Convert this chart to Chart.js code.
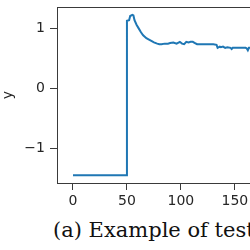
<!DOCTYPE html>
<html>
<head>
<meta charset="utf-8">
<script src="https://cdn.jsdelivr.net/npm/chart.js@4"></script>
<style>
  html, body { margin: 0; padding: 0; background: #fff; overflow: hidden; }
  #wrap { position: relative; width: 250px; height: 250px; }
  #chartBox { position: absolute; left: 0; top: 0; width: 250px; height: 212px; }
  #caption {
    position: absolute; left: 53px; top: 218px; white-space: nowrap;
    font-family: "DejaVu Serif", "Liberation Serif", serif; font-size: 21px; color: #111;
  }
</style>
</head>
<body>
<div id="wrap">
  <div id="chartBox"><canvas id="stepChart"></canvas></div>
  <div id="caption">(a) Example of test</div>
</div>
<script>
// Data
const steps = [0, 50, 50, 52, 53, 55, 56, 57, 59, 61, 63, 65, 68, 70, 73, 75, 78, 80, 82, 85, 88, 90, 93, 96, 99, 101, 103, 105, 107, 109, 111, 113, 115, 118, 122, 126, 130, 133, 134, 136, 137, 139, 141, 143, 146, 147, 148, 152, 156, 160, 161, 162, 163, 166, 170];
const response = [-1.45, -1.45, 1.12, 1.13, 1.2, 1.22, 1.21, 1.13, 1.05, 0.99, 0.93, 0.88, 0.83, 0.81, 0.78, 0.76, 0.74, 0.73, 0.73, 0.74, 0.74, 0.75, 0.76, 0.74, 0.77, 0.74, 0.73, 0.77, 0.76, 0.77, 0.77, 0.75, 0.73, 0.73, 0.73, 0.73, 0.73, 0.72, 0.67, 0.69, 0.68, 0.69, 0.67, 0.68, 0.67, 0.65, 0.67, 0.67, 0.67, 0.67, 0.66, 0.63, 0.67, 0.67, 0.67];
const xTicks = [0, 50, 100, 150];
const yTicks = [-1, 0, 1];

const axisColor = '#3a3a3a';
const tickFont = { family: 'DejaVu Sans', size: 14 };

function fixedTicks(list) {
    return function(scale) {
        scale.ticks = list.map(v => ({ value: v }));
    };
}

const points = steps.map((x, i) => ({ x: x, y: response[i] }));

new Chart(document.getElementById('stepChart'), {
    type: 'line',
    data: {
        datasets: [{
            data: points,
            borderColor: '#1f77b4',
            borderWidth: 2,
            pointRadius: 0,
            tension: 0,
            fill: false
        }]
    },
    options: {
        responsive: true,
        maintainAspectRatio: false,
        animation: false,
        layout: { padding: { top: 7, right: 0, bottom: 0, left: 0 } },
        plugins: { legend: { display: false }, tooltip: { enabled: false } },
        scales: {
            x: {
                type: 'linear',
                position: 'bottom',
                min: -14.8,
                max: 164,
                afterBuildTicks: fixedTicks(xTicks),
                afterFit: s => { s.height = 29; s.paddingLeft = 0; s.paddingRight = 0; },
                grid: { drawOnChartArea: false, tickLength: 7, color: axisColor },
                border: { display: true, color: axisColor, width: 1 },
                ticks: { color: '#262626', font: tickFont, padding: 3, maxRotation: 0 }
            },
            xTop: {
                type: 'linear',
                position: 'top',
                min: -14.8,
                max: 164,
                afterFit: s => { s.height = 0; },
                grid: { display: false },
                border: { display: true, color: axisColor, width: 1 },
                ticks: { display: false }
            },
            y: {
                min: -1.58,
                max: 1.35,
                afterBuildTicks: fixedTicks(yTicks),
                afterFit: s => { s.width = 57; s.paddingTop = 0; s.paddingBottom = 0; },
                grid: { drawOnChartArea: false, tickLength: 7, color: axisColor },
                border: { display: true, color: axisColor, width: 1 },
                ticks: {
                    color: '#262626', font: tickFont, padding: 5,
                    callback: v => (v < 0 ? '\u2212' + Math.abs(v) : String(v))
                },
                title: {
                    display: true, text: 'y', color: '#262626',
                    font: { family: 'DejaVu Sans', size: 14 }, padding: 0
                }
            }
        }
    }
});
</script>
</body>
</html>
